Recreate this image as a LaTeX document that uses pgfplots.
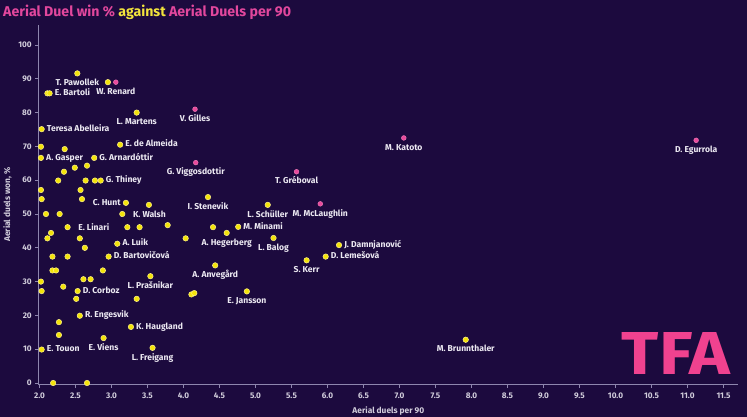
\documentclass[border=0pt]{standalone}
\usepackage{pgfplots}
\pgfplotsset{compat=1.18}
\usepackage{pgfplotstable}
\usepackage{graphicx}
\usepackage{fontspec}
\setmainfont{Fira Sans}

\definecolor{bg}{HTML}{1C0A3E}
\definecolor{ycol}{HTML}{F4E40A}
\definecolor{yedge}{HTML}{FFF28A}
\definecolor{pcol}{HTML}{E84A9C}
\definecolor{pedge}{HTML}{F27DBA}
\definecolor{labcol}{HTML}{ECE9F2}
\definecolor{tickcol}{HTML}{D2CEDC}
\definecolor{axcol}{HTML}{8E86AE}
\definecolor{titpink}{HTML}{E2479D}
\definecolor{tityel}{HTML}{F2E43C}
\definecolor{logo}{HTML}{F0428F}

% players without a name shown
\pgfplotstableread{
x y
2.95 89.0
2.11 85.7
2.02 69.9
2.35 69.2
2.66 64.3
2.49 63.7
2.34 62.5
2.26 59.9
2.64 59.9
2.77 59.9
2.02 57.1
2.57 57.1
2.03 54.4
2.59 54.4
3.52 52.7
2.09 50.0
2.28 50.0
3.22 46.1
3.39 46.1
3.78 46.7
2.16 44.4
2.11 42.8
2.56 42.8
4.03 42.8
4.41 46.1
2.63 40.0
2.18 37.4
2.39 37.4
2.18 33.3
2.23 33.3
2.88 33.3
2.61 30.7
2.71 30.7
2.02 30.0
2.03 27.2
2.33 28.5
2.51 24.9
3.35 24.9
4.11 26.2
4.15 26.6
2.27 18.0
2.27 14.2
2.19 0.0
2.66 0.0
}\plainpts

% named, label under the dot
\pgfplotstableread{
x y label
2.525 91.6 {T. Pawollek}
3.35 80.0 {L. Martens}
4.34 55.0 {I. Stenevik}
4.60 44.4 {A. Hegerberg}
5.17 52.7 {L. Schüller}
5.25 42.9 {L. Balog}
5.71 36.3 {S. Kerr}
4.88 27.1 {E. Jansson}
7.92 12.8 {M. Brunnthaler}
4.44 34.8 {A. Anvegård}
3.54 31.6 {L. Prašnikar}
2.89 13.3 {E. Viens}
3.57 10.4 {L. Freigang}
}\ybelow

% named, label right of the dot
\pgfplotstableread{
x y label
2.14 85.7 {E. Bartoli}
2.03 75.1 {Teresa Abelleira}
3.12 70.5 {E. de Almeida}
2.02 66.6 {A. Gasper}
2.76 66.6 {G. Arnardóttir}
2.85 59.9 {G. Thiney}
4.76 46.2 {M. Minami}
6.16 40.8 {J. Damnjanović}
5.975 37.4 {D. Lemešová}
3.08 41.2 {A. Luik}
2.96 37.4 {D. Bartovičová}
2.53 27.2 {D. Corboz}
2.56 19.9 {R. Engesvik}
3.27 16.6 {K. Haugland}
2.03 9.9 {E. Touon}
}\yright

% named, label further right
\pgfplotstableread{
x y label
3.15 50.0 {K. Walsh}
2.39 46.1 {E. Linari}
}\yfar

% named, label left of the dot
\pgfplotstableread{
x y label
3.20 53.3 {C. Hunt}
}\yleft

% named players (pink), label under the dot
\pgfplotstableread{
x y label
3.06 89.0 {W. Renard}
4.16 81.0 {V. Gilles}
4.17 65.2 {G. Viggosdottir}
5.57 62.5 {T. Gréboval}
5.90 53.0 {M. McLaughlin}
7.06 72.5 {M. Katoto}
11.12 71.8 {D. Egurrola}
}\pinkpts

\pgfplotsset{
  ydot/.style={only marks, mark=*, mark size=2.75bp,
    mark options={fill=ycol, draw=yedge, line width=0.5bp}},
  pdot/.style={only marks, mark=*, mark size=2.4bp,
    mark options={fill=pcol, draw=pedge, line width=0.4bp}},
  lab/.style={nodes near coords, point meta=explicit symbolic,
    every node near coord/.append style={#1}},
}

\begin{document}
\begin{tikzpicture}
\path[use as bounding box, fill=bg] (-38.78bp,-32.31bp) rectangle (708.22bp,384.69bp);

\node[anchor=base west, inner sep=0, font=\bfseries\fontsize{14.2}{16}\selectfont, text=titpink]
  at (-35.78bp,367.7bp) {Aerial Duel win \% {\color{tityel}against} Aerial Duels per 90};

\begin{axis}[
  at={(0,0)}, anchor=south west,
  x=72bp, y=3.38bp,
  xmin=1.99, xmax=11.7, ymin=-0.5, ymax=106,
  axis x line*=bottom, axis y line*=left,
  axis line style={draw=axcol, line width=1.2bp},
  clip=false,
  xtick={2,2.5,...,11.5}, ytick={0,10,...,100},
  xticklabel style={yshift=-1bp, /pgf/number format/.cd, fixed, fixed zerofill, precision=1},
  /pgf/number format/assume math mode=true,
  tick align=outside, major tick length=3.5bp,
  tick style={draw=axcol, line width=0.8bp},
  ticklabel style={font=\bfseries\fontsize{8.2}{9}\selectfont, text=tickcol},
  xlabel={Aerial duels per 90},
  ylabel={Aerial duels won, \%},
  label style={font=\bfseries\fontsize{8.4}{9}\selectfont, text=tickcol},
  xlabel style={yshift=-1bp},
  every node near coord/.append style={font=\bfseries\fontsize{8.6}{10}\selectfont, text=labcol,
     inner sep=0.5bp, text height=6bp, text depth=1.5bp},
]
\addplot[ydot] table[x=x, y=y] {\plainpts};
\addplot[ydot, lab={anchor=center, yshift=-10bp}] table[x=x, y=y, meta=label] {\ybelow};
\addplot[ydot, lab={anchor=west, xshift=4.5bp}] table[x=x, y=y, meta=label] {\yright};
\addplot[ydot, lab={anchor=west, xshift=10bp, yshift=-1bp}] table[x=x, y=y, meta=label] {\yfar};
\addplot[ydot, lab={anchor=east, xshift=-4.5bp}] table[x=x, y=y, meta=label] {\yleft};
\addplot[pdot, lab={anchor=center, yshift=-10bp}] table[x=x, y=y, meta=label] {\pinkpts};
\end{axis}

\node[anchor=south west, inner sep=0, text=logo] at (582.9bp,9.7bp)
  {\resizebox{108bp}{42bp}{\bfseries TFA}};
\end{tikzpicture}
\end{document}
